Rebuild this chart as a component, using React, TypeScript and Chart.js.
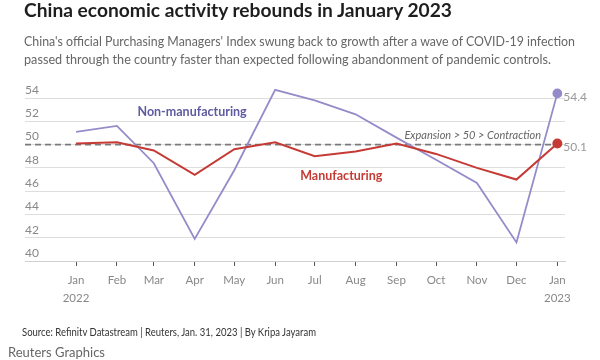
import React, { useEffect, useRef } from 'react';
import { Chart, registerables } from 'chart.js';

Chart.register(...registerables);

// ---- Data ----
const monthLabels = ['Jan', 'Feb', 'Mar', 'Apr', 'May', 'Jun', 'Jul', 'Aug', 'Sep', 'Oct', 'Nov', 'Dec', 'Jan'];
const yearLabels = ['2022', '', '', '', '', '', '', '', '', '', '', '', '2023'];
// days since Jan 1, 2022 for the first day of each month
const dayOffsets = [0, 31, 59, 90, 120, 151, 181, 212, 243, 273, 304, 334, 365];
const manufacturing = [50.1, 50.2, 49.5, 47.4, 49.6, 50.2, 49.0, 49.4, 50.1, 49.2, 48.0, 47.0, 50.1];
const nonManufacturing = [51.1, 51.6, 48.4, 41.9, 47.8, 54.7, 53.8, 52.6, 50.6, 48.7, 46.7, 41.6, 54.4];
const yTicks = [40, 42, 44, 46, 48, 50, 52, 54];
const threshold = 50;

const FONT = 'Lato, "Noto Sans", sans-serif';
const MANU_COLOR = '#c63a35';
const NONMANU_COLOR = '#958bc9';

const annotate = {
  id: 'annotate',
  beforeDatasetsDraw(chart: any) {
    const { ctx, chartArea, scales } = chart;
    const py = scales.y.getPixelForValue(threshold);
    ctx.save();
    ctx.strokeStyle = '#7a7a7a';
    ctx.lineWidth = 1.6;
    ctx.setLineDash([6, 4]);
    ctx.beginPath();
    ctx.moveTo(chartArea.left, py);
    ctx.lineTo(chartArea.right, py);
    ctx.stroke();
    ctx.setLineDash([]);
    ctx.font = `italic 11px ${FONT}`;
    ctx.fillStyle = '#666';
    ctx.textAlign = 'right';
    ctx.textBaseline = 'middle';
    ctx.fillText('Expansion > 50 > Contraction', chartArea.right - 24, py - 9);
    ctx.restore();
  },
  afterDatasetsDraw(chart: any) {
    const { ctx, scales } = chart;
    const x = scales.x;
    const y = scales.y;
    ctx.save();
    ctx.textBaseline = 'middle';
    ctx.font = `bold 12.5px ${FONT}`;
    ctx.fillStyle = '#5e5ba0';
    ctx.textAlign = 'center';
    ctx.fillText('Non-manufacturing', x.getPixelForValue(88), y.getPixelForValue(52.8));
    ctx.fillStyle = MANU_COLOR;
    ctx.textAlign = 'left';
    ctx.fillText('Manufacturing', x.getPixelForValue(170), y.getPixelForValue(47.3));

    ctx.font = `12px ${FONT}`;
    ctx.fillStyle = '#999';
    const series = [manufacturing, nonManufacturing];
    series.forEach((vals, i) => {
      const meta = chart.getDatasetMeta(i);
      const pt = meta.data[vals.length - 1];
      if (!pt) return;
      ctx.fillText(vals[vals.length - 1].toFixed(1), pt.x + 6, pt.y + 4);
    });
    ctx.restore();
  },
};

function FitText(props: { text: string; left: number; top: number; width: number; style: React.CSSProperties }) {
  const ref = useRef<HTMLDivElement | null>(null);
  useEffect(() => {
    const fit = () => {
      const el = ref.current;
      if (!el) return;
      el.style.transform = 'none';
      const w = el.getBoundingClientRect().width;
      if (w > 0) el.style.transform = `scaleX(${props.width / w})`;
    };
    fit();
    if ((document as any).fonts && (document as any).fonts.ready) {
      (document as any).fonts.ready.then(fit);
    }
  }, [props.text, props.width]);
  return (
    <div
      ref={ref}
      style={{
        position: 'absolute',
        left: props.left,
        top: props.top,
        whiteSpace: 'nowrap',
        transformOrigin: '0 0',
        display: 'inline-block',
        ...props.style,
      }}
    >
      {props.text}
    </div>
  );
}

export default function App() {
  const canvasRef = useRef<HTMLCanvasElement | null>(null);

  useEffect(() => {
    const canvas = canvasRef.current;
    if (!canvas) return;
    const last = manufacturing.length - 1;
    const chart = new Chart(canvas, {
      type: 'line',
      data: {
        datasets: [
          {
            label: 'Manufacturing',
            data: dayOffsets.map((d, i) => ({ x: d, y: manufacturing[i] })),
            borderColor: MANU_COLOR,
            backgroundColor: MANU_COLOR,
            borderWidth: 2,
            pointRadius: (c: any) => (c.dataIndex === last ? 4 : 0),
            pointHoverRadius: 0,
            tension: 0,
          },
          {
            label: 'Non-manufacturing',
            data: dayOffsets.map((d, i) => ({ x: d, y: nonManufacturing[i] })),
            borderColor: NONMANU_COLOR,
            backgroundColor: NONMANU_COLOR,
            borderWidth: 1.8,
            pointRadius: (c: any) => (c.dataIndex === last ? 4 : 0),
            pointHoverRadius: 0,
            tension: 0,
          },
        ],
      },
      options: {
        responsive: false,
        animation: false,
        devicePixelRatio: 1,
        layout: { padding: { left: 25, right: 35, top: 86.4, bottom: 49 } },
        plugins: {
          legend: { display: false },
          tooltip: { enabled: false },
          title: { display: false },
        },
        scales: {
          x: {
            type: 'linear',
            min: -38.7,
            max: 370.8,
            afterBuildTicks: (scale: any) => {
              scale.ticks = dayOffsets.map((v) => ({ value: v }));
            },
            afterFit: (scale: any) => {
              scale.height = 50;
            },
            grid: {
              drawOnChartArea: false,
              drawTicks: true,
              tickLength: 5,
              color: '#555',
              lineWidth: 1,
            },
            border: { display: true, color: '#d0d0d0', width: 1 },
            ticks: {
              autoSkip: false,
              maxRotation: 0,
              minRotation: 0,
              padding: 6,
              color: '#888',
              font: { family: FONT, size: 11.5, lineHeight: 1.52 },
              callback: (_v: any, i: number) =>
                yearLabels[i] ? [monthLabels[i], yearLabels[i]] : monthLabels[i],
            },
          },
          y: {
            type: 'linear',
            min: 40,
            max: 55,
            afterBuildTicks: (scale: any) => {
              scale.ticks = yTicks.map((v) => ({ value: v }));
            },
            afterFit: (scale: any) => {
              scale.width = 0;
            },
            grid: { color: '#dedede', lineWidth: 1, drawTicks: false },
            border: { display: false },
            ticks: {
              mirror: true,
              padding: 0,
              labelOffset: -8,
              color: '#888',
              font: { family: FONT, size: 12 },
            },
          },
        },
      },
      plugins: [annotate],
    } as any);
    return () => chart.destroy();
  }, []);

  return (
    <div style={{ position: 'absolute', left: 0, top: 0, width: 600, height: 360, background: '#fff', overflow: 'hidden' }}>
      <canvas ref={canvasRef} width={600} height={360} style={{ position: 'absolute', left: 0, top: 0, width: 600, height: 360 }} />
      <FitText
        text="China economic activity rebounds in January 2023"
        left={24}
        top={-2}
        width={428}
        style={{ fontFamily: FONT, fontWeight: 700, fontSize: 19, lineHeight: '24px', color: '#1e1e1e' }}
      />
      <FitText
        text="China's official Purchasing Managers' Index swung back to growth after a wave of COVID-19 infection"
        left={24}
        top={32}
        width={551}
        style={{ fontFamily: FONT, fontSize: 13, lineHeight: '18px', color: '#666' }}
      />
      <FitText
        text="passed through the country faster than expected following abandonment of pandemic controls."
        left={24}
        top={50}
        width={527}
        style={{ fontFamily: FONT, fontSize: 13, lineHeight: '18px', color: '#666' }}
      />
      <FitText
        text="Source: Refinitv Datastream | Reuters, Jan. 31, 2023 | By Kripa Jayaram"
        left={22}
        top={325}
        width={294}
        style={{ fontFamily: FONT, fontSize: 10.5, lineHeight: '14px', color: '#333' }}
      />
      <FitText
        text="Reuters Graphics"
        left={8}
        top={344}
        width={97}
        style={{ fontFamily: FONT, fontSize: 13, lineHeight: '16px', color: '#666' }}
      />
    </div>
  );
}
